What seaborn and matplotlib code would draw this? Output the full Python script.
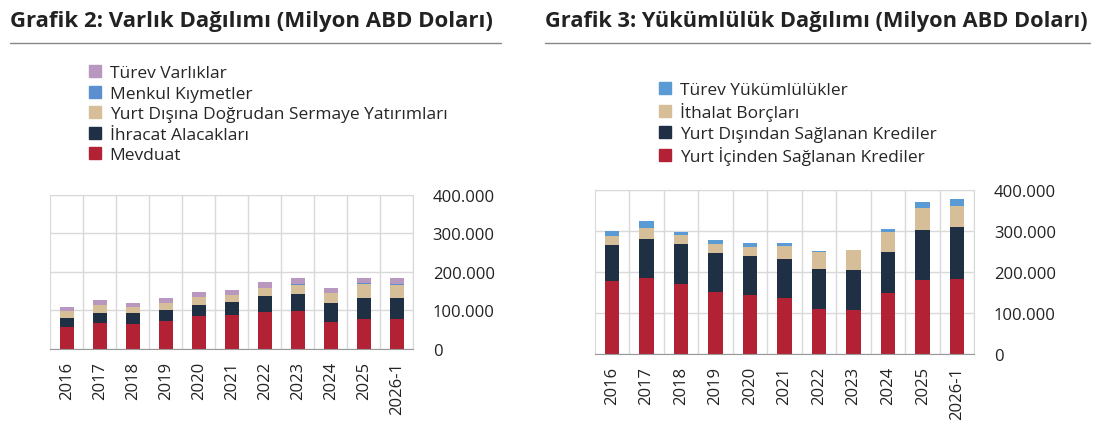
import matplotlib.pyplot as plt
import seaborn as sns
import numpy as np
import pandas as pd
from matplotlib.lines import Line2D
from matplotlib.patches import Patch

years = ["2016", "2017", "2018", "2019", "2020", "2021", "2022", "2023", "2024", "2025", "2026-1"]

# Grafik 2 - Varlık (bin ABD doları)
mevduat = [57, 68, 65, 73, 86, 89, 96, 99, 69, 77, 77]
ihracat = [23, 25, 27, 27, 28, 33, 40, 44, 49, 56, 54]
yatirim = [18, 20, 17, 19, 20, 17, 21, 24, 26, 36, 34]
menkul = [1, 1, 1, 1, 1, 1, 1, 1, 1, 3, 3]
turev_v = [9, 12, 10, 12, 13, 14, 16, 16, 12, 12, 15]

# Grafik 3 - Yükümlülük
yurt_ici = [178, 185, 170, 152, 145, 136, 111, 108, 150, 180, 184]
yurt_disi = [88, 96, 98, 94, 93, 95, 96, 97, 98, 123, 126]
ithalat = [22, 27, 22, 23, 24, 33, 42, 48, 49, 53, 51]
turev_y = [13, 16, 8, 9, 8, 6, 2, 0.5, 7, 15, 18]

RED, NAVY, TAN = "#B22234", "#1F3045", "#D6BF98"

def stacked(ax, series, labels, colors):
    bottom = np.zeros(len(years))
    for vals, lab, col in zip(series, labels, colors):
        vals = np.array(vals) * 1000
        df = pd.DataFrame({"yil": years, "v": vals})
        sns.barplot(data=df, x="yil", y="v", color=col, bottom=bottom, width=0.42,
                    saturation=1, ax=ax, edgecolor="none", linewidth=0)
        bottom += vals
    ax.set_ylim(0, 400000)
    ax.set_xlim(-0.5, len(years) - 0.5)
    ax.set_yticks(range(0, 400001, 100000))
    ax.yaxis.set_major_formatter(lambda v, _: f"{int(v):,}".replace(",", "."))
    ax.yaxis.tick_right()
    ax.tick_params(axis="y", length=0, labelsize=12, colors="#222222", pad=14)
    ax.tick_params(axis="x", rotation=90, labelsize=12, colors="#222222", length=5, color="#999999")
    ax.set_xticks(np.arange(len(years)) + 0.5, minor=True)
    ax.grid(axis="y", color="#D9D9D9", linewidth=1)
    ax.grid(axis="x", which="minor", color="#D9D9D9", linewidth=1)
    ax.set_axisbelow(True)
    for s in ["top", "right", "left"]:
        ax.spines[s].set_color("#D9D9D9")
    ax.spines["bottom"].set_color("#999999")
    ax.set_xlabel("")
    ax.set_ylabel("")
    handles = [Patch(color=c, label=l) for l, c in zip(labels, colors)][::-1]
    return handles

sns.set_style("white")
plt.rcParams["font.family"] = ["Open Sans", "DejaVu Sans"]

fig = plt.figure(figsize=(11.2, 4.39), dpi=100)
ax1 = fig.add_axes([0.045, 0.203, 0.324, 0.351])
ax2 = fig.add_axes([0.531, 0.191, 0.339, 0.374])

h1 = stacked(ax1, [mevduat, ihracat, yatirim, menkul, turev_v],
             ["Mevduat", "İhracat Alacakları", "Yurt Dışına Doğrudan Sermaye Yatırımları",
              "Menkul Kıymetler", "Türev Varlıklar"],
             [RED, NAVY, TAN, "#5B8FD0", "#B898BE"])
h2 = stacked(ax2, [yurt_ici, yurt_disi, ithalat, turev_y],
             ["Yurt İçinden Sağlanan Krediler", "Yurt Dışından Sağlanan Krediler",
              "İthalat Borçları", "Türev Yükümlülükler"],
             [RED, NAVY, TAN, "#5B9BD5"])

leg_kw = dict(frameon=False, fontsize=12.5, handlelength=0.7, handleheight=0.7,
              handletextpad=0.5, labelspacing=0.25, borderaxespad=0)
fig.legend(handles=h1, loc="upper left", bbox_to_anchor=(0.073, 0.865), **leg_kw)
fig.legend(handles=h2, loc="upper left", bbox_to_anchor=(0.582, 0.827), **leg_kw)

fig.text(0.009, 0.95, "Grafik 2: Varlık Dağılımı (Milyon ABD Doları)", fontsize=16,
         fontweight="bold", color="#222222", va="center")
fig.text(0.487, 0.95, "Grafik 3: Yükümlülük Dağılımı (Milyon ABD Doları)", fontsize=15.7,
         fontweight="bold", color="#222222", va="center")
fig.add_artist(Line2D([0.009, 0.447], [0.9, 0.9], color="#888888", linewidth=1))
fig.add_artist(Line2D([0.487, 0.973], [0.9, 0.9], color="#888888", linewidth=1))

fig.savefig("out.png", dpi=100)
